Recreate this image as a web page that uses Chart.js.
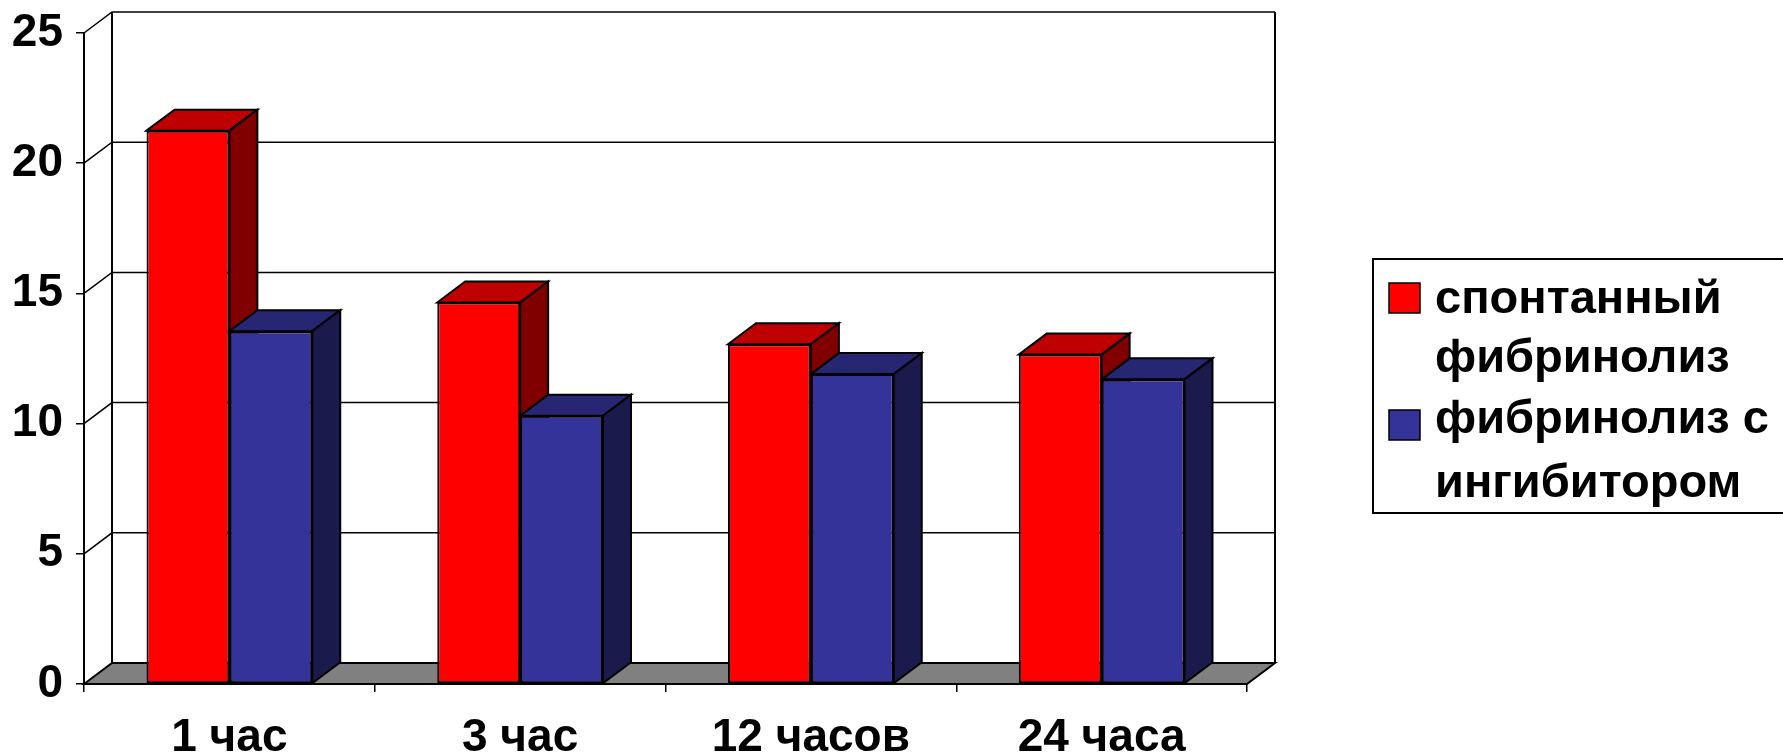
<!DOCTYPE html>
<html lang="ru">
<head>
    <meta charset="UTF-8">
    <title>Фибринолиз</title>
    <style>
        html, body { margin: 0; padding: 0; background: #fff; }
        .chart { width: 1783px; height: 756px; position: relative; }
    </style>
</head>
<body>
    <div class="chart">
        <canvas id="fibChart"></canvas>
    </div>

    <script src="https://cdn.jsdelivr.net/npm/chart.js"></script>
    <script>
        const categories = ['1 час', '3 час', '12 часов', '24 часа'];
        const spontaneous = [21.25, 14.65, 13.05, 12.65];
        const withInhibitor = [13.55, 10.3, 11.9, 11.7];
        const seriesNames = ['спонтанный фибринолиз', 'фибринолиз с ингибитором'];
        const legendLines = [['спонтанный', 'фибринолиз'], ['фибринолиз с', 'ингибитором']];
        const yTicks = [0, 5, 10, 15, 20, 25];

        const FONT = '"Liberation Sans", Arial, sans-serif';
        const DX = 28, DY = 21; // depth of the 3d box
        const faceColors = [
            { front: '#FF0000', top: '#BF0000', side: '#800000' },
            { front: '#333399', top: '#262673', side: '#1A1A4D' }
        ];

        function poly(ctx, pts, fill) {
            ctx.beginPath();
            ctx.moveTo(pts[0][0], pts[0][1]);
            for (let i = 1; i < pts.length; i++) ctx.lineTo(pts[i][0], pts[i][1]);
            ctx.closePath();
            if (fill) { ctx.fillStyle = fill; ctx.fill(); }
            ctx.stroke();
        }

        const depthPlugin = {
            id: 'depth',
            beforeDatasetsDraw(chart) {
                const { ctx, chartArea: a, scales: { y } } = chart;
                ctx.save();
                ctx.strokeStyle = '#000';
                ctx.lineJoin = 'miter';

                // gridlines on the side and back wall
                ctx.lineWidth = 1.5;
                y.ticks.forEach(t => {
                    if (t.value === y.min) return;
                    const py = y.getPixelForValue(t.value);
                    ctx.beginPath();
                    ctx.moveTo(a.left, py);
                    ctx.lineTo(a.left + DX, py - DY);
                    ctx.lineTo(a.right + DX, py - DY);
                    ctx.stroke();
                });

                ctx.lineWidth = 2;
                ctx.beginPath();
                ctx.moveTo(a.left + DX, a.bottom - DY);
                ctx.lineTo(a.left + DX, a.top - DY);
                ctx.moveTo(a.right + DX, a.top - DY);
                ctx.lineTo(a.right + DX, a.bottom - DY);
                ctx.stroke();

                // floor
                poly(ctx, [[a.left, a.bottom], [a.left + DX, a.bottom - DY],
                    [a.right + DX, a.bottom - DY], [a.right, a.bottom]], '#808080');

                // tops and sides of the bars
                ctx.lineWidth = 2;
                for (let i = 0; i < categories.length; i++) {
                    chart.data.datasets.forEach((ds, d) => {
                        const el = chart.getDatasetMeta(d).data[i];
                        const p = el.getProps(['x', 'y', 'base', 'width'], true);
                        const l = p.x - p.width / 2, r = p.x + p.width / 2;
                        poly(ctx, [[l, p.y], [l + DX, p.y - DY], [r + DX, p.y - DY], [r, p.y]], faceColors[d].top);
                        poly(ctx, [[r, p.y], [r + DX, p.y - DY], [r + DX, p.base - DY], [r, p.base]], faceColors[d].side);
                    });
                }
                ctx.restore();
            },
            afterDraw(chart) {
                const { ctx } = chart;
                ctx.save();
                ctx.strokeStyle = '#000';
                ctx.lineWidth = 2;
                ctx.strokeRect(1373, 259, 460, 254);

                ctx.font = 'bold 47px ' + FONT;
                ctx.textBaseline = 'alphabetic';
                ctx.textAlign = 'left';
                const baselines = [[313, 372], [433, 497]];
                const squareTop = [283, 410];
                legendLines.forEach((lines, d) => {
                    ctx.fillStyle = faceColors[d].front;
                    ctx.lineWidth = 1.5;
                    ctx.fillRect(1389, squareTop[d], 31, 30);
                    ctx.strokeRect(1389, squareTop[d], 31, 30);
                    ctx.fillStyle = '#000';
                    lines.forEach((line, k) => ctx.fillText(line, 1435, baselines[d][k]));
                });
                ctx.restore();
            }
        };

        const ctx = document.getElementById('fibChart');

        new Chart(ctx, {
            type: 'bar',
            data: {
                labels: categories,
                datasets: [spontaneous, withInhibitor].map((values, d) => ({
                    label: seriesNames[d],
                    data: values,
                    backgroundColor: faceColors[d].front,
                    borderColor: '#000',
                    borderWidth: 2,
                    borderSkipped: false,
                    barPercentage: 1.0,
                    categoryPercentage: 0.57
                }))
            },
            options: {
                responsive: true,
                maintainAspectRatio: false,
                animation: false,
                layout: { padding: { top: 33, right: 536, left: 0, bottom: 0 } },
                scales: {
                    x: {
                        afterFit(scale) {
                            scale.height = 72;
                            scale.paddingLeft = 0;
                            scale.paddingRight = 0;
                        },
                        grid: { offset: true, drawOnChartArea: false, drawTicks: true, tickLength: 8, color: '#000', lineWidth: 1.5 },
                        border: { color: '#000', width: 2 },
                        ticks: { color: '#000', padding: 19, font: { family: FONT, size: 46, weight: 'bold' } }
                    },
                    y: {
                        min: yTicks[0],
                        max: yTicks[yTicks.length - 1],
                        afterFit(scale) {
                            scale.width = 84;
                            scale.paddingTop = 0;
                            scale.paddingBottom = 0;
                        },
                        grid: { drawOnChartArea: false, drawTicks: true, tickLength: 8, color: '#000', lineWidth: 1.5 },
                        border: { color: '#000', width: 2 },
                        ticks: {
                            stepSize: yTicks[1] - yTicks[0],
                            color: '#000',
                            padding: 13,
                            font: { family: FONT, size: 46, weight: 'bold' }
                        }
                    }
                },
                plugins: {
                    legend: { display: false },
                    tooltip: { enabled: false }
                }
            },
            plugins: [depthPlugin]
        });
    </script>
</body>
</html>
